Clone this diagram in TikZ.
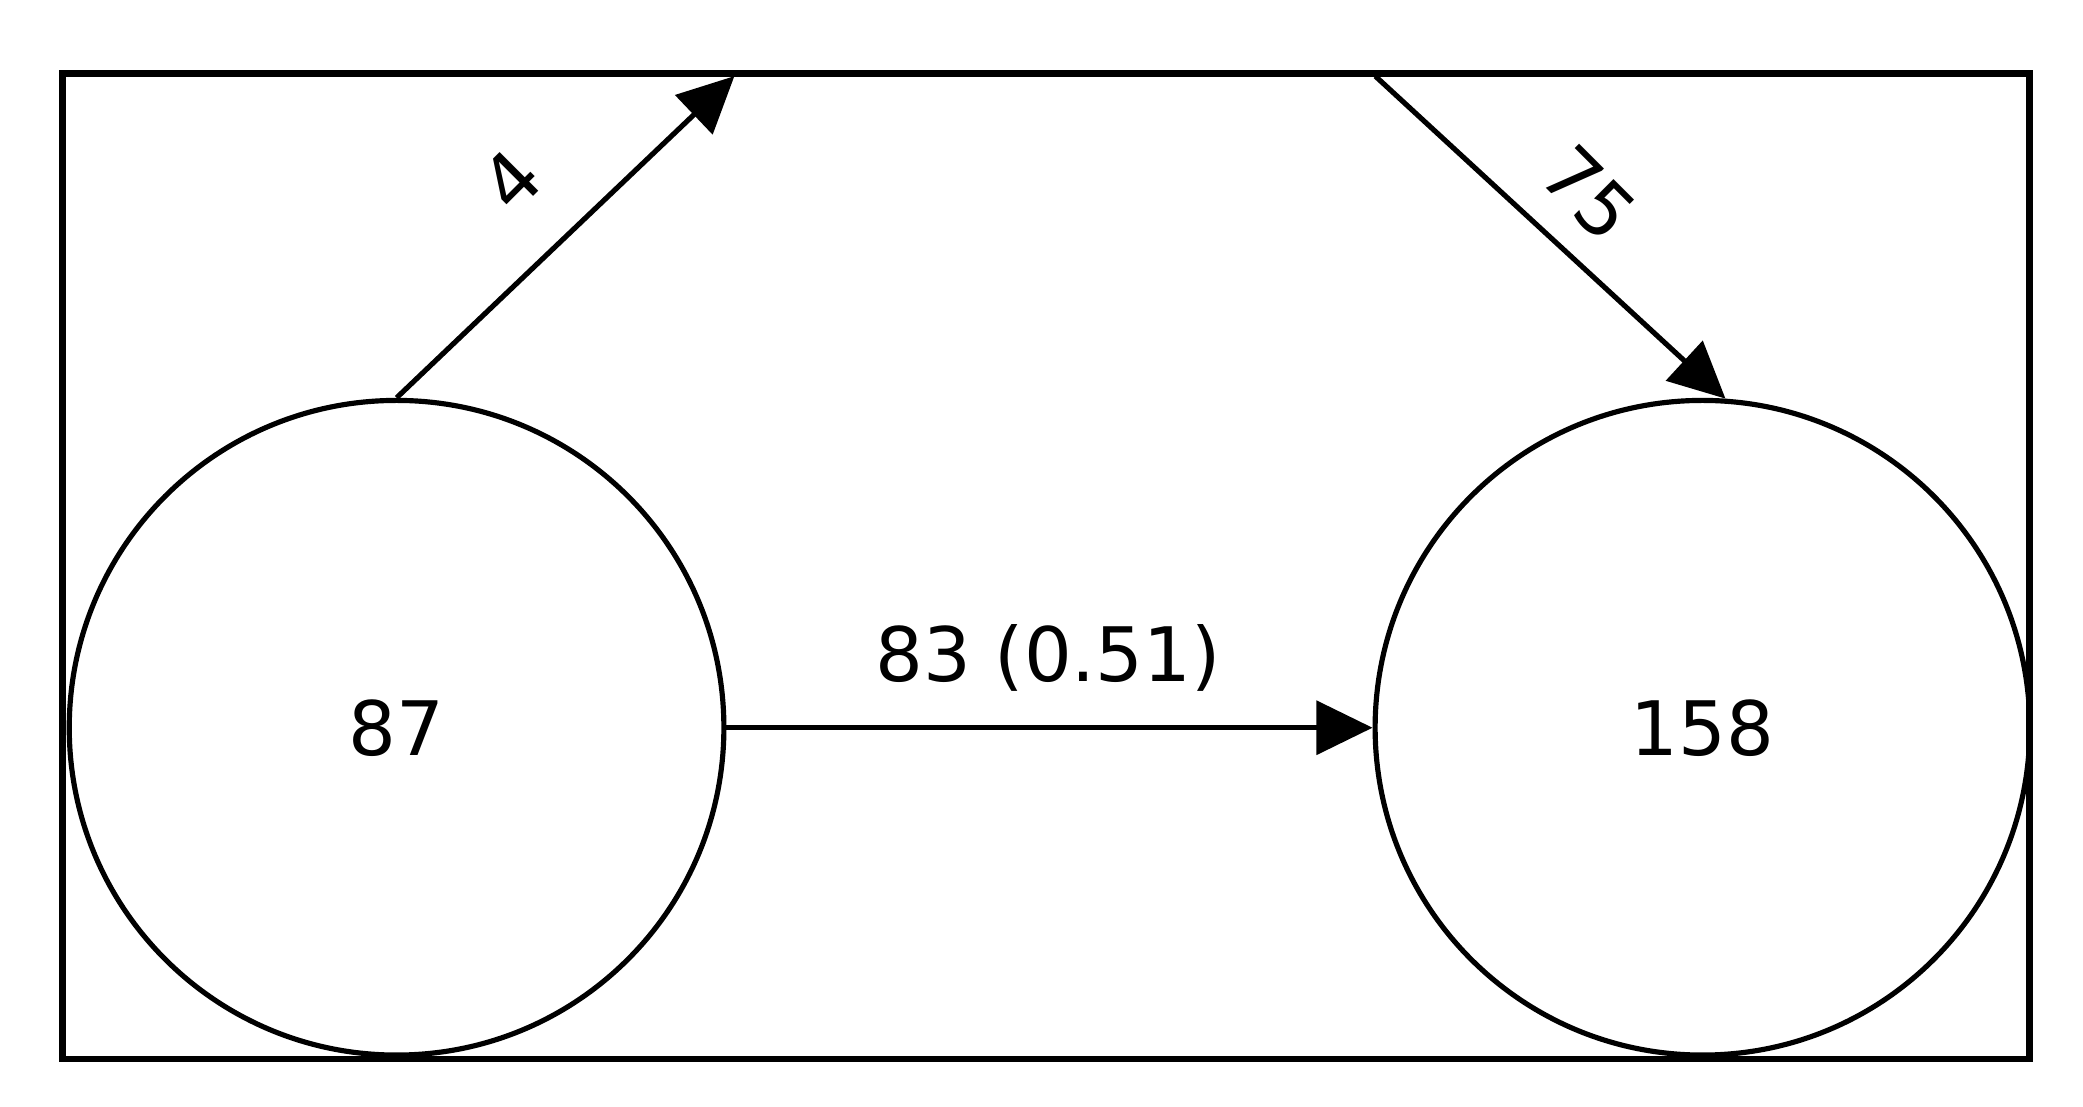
\documentclass[tikz,border=0pt]{standalone}
\usepackage{fontspec}
\setmainfont{DejaVu Sans}
\usetikzlibrary{arrows.meta}
\begin{document}
\begin{tikzpicture}[x=0.01cm,y=-0.01cm,
  st/.style={circle,draw,line width=1.1pt,minimum size=4.9cm,inner sep=0pt,font=\fontsize{16}{18}\selectfont},
  edge/.style={line width=1.1pt,-{Triangle[length=0.42cm,width=0.4cm]}},
  lab/.style={font=\fontsize{16}{18}\selectfont}]
\useasboundingbox (0,0) rectangle (1560,829);
\node[st] (a) at (297,545) {87};
\node[st] (b) at (1275,545) {158};
\coordinate (t1) at (550,57);
\coordinate (t2) at (1030,57);
\begin{scope}
\clip (47,55) rectangle (1520,793);
\draw[edge] (a.north) -- (t1);
\draw[edge] (t2) -- (b.86);
\end{scope}
\draw[edge] (a.east) -- (b.west);
\node[lab,rotate=45] (l4) at (383,135) {4};
\node[lab,rotate=-45] (l75) at (1190,145) {75};
\node[lab] (l83) at (785,493) {83 (0.51)};
\draw[line width=1.4pt] (47,55) rectangle (1520,793);
\end{tikzpicture}
\end{document}
